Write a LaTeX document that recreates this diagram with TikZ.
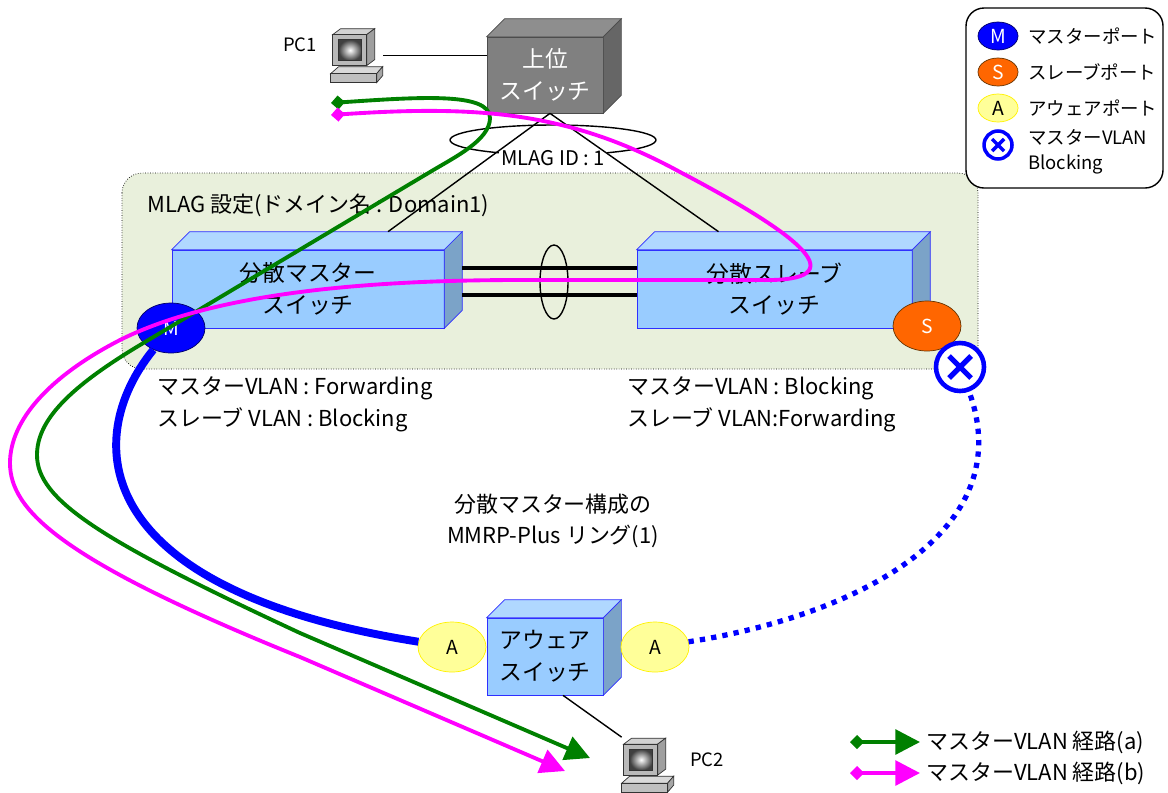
\documentclass[tikz,border=0pt]{standalone}
\usepackage{fontspec}
\setmainfont{Noto Sans CJK JP}
\usetikzlibrary{positioning, arrows.meta, shapes.geometric}

\definecolor{domainbg}{HTML}{E9F0DC}
\definecolor{swfront}{HTML}{99CCFF}
\definecolor{swtop}{HTML}{B0D8FF}
\definecolor{swside}{HTML}{7BA3C8}
\definecolor{swline}{HTML}{2F2FFF}
\definecolor{upfront}{HTML}{808080}
\definecolor{uptop}{HTML}{8E8E8E}
\definecolor{upside}{HTML}{666666}
\definecolor{mblue}{HTML}{0000FF}
\definecolor{sorange}{HTML}{FF6600}
\definecolor{ayellow}{HTML}{FFFF99}
\definecolor{pathgreen}{HTML}{008000}
\definecolor{pathpink}{HTML}{FF00FF}

\newcommand{\lblfont}{\fontsize{12.5pt}{18pt}\selectfont}
\newcommand{\keyfont}{\fontsize{10.5pt}{14pt}\selectfont}

% top and side faces of a box node
\newcommand{\boxsides}[3]{%
	\filldraw[#2] (#1.north west) -- ++(18,-18) -- ([shift={(18,-18)}]#1.north east) -- (#1.north east) -- cycle;
	\filldraw[#3] (#1.north east) -- ++(18,-18) -- ([shift={(18,-18)}]#1.south east) -- (#1.south east) -- cycle;
}

% small computer drawn inside a pc node
\newcommand{\pcicon}[1]{%
	\begin{scope}[shift={(#1.north west)}, draw=black!80, line width=0.4pt]
		\filldraw[fill=gray!35] (2,7) -- (10,1) -- (44,1) -- (36,7) -- cycle;
		\filldraw[fill=gray!75] (36,7) -- (44,1) -- (44,32) -- (36,38) -- cycle;
		\filldraw[fill=gray!55] (2,7) rectangle (36,38);
		\shade[inner color=white, outer color=black!75] (8,12) rectangle (31,33);
		\draw (8,12) rectangle (31,33);
		\filldraw[fill=gray!30] (0,46) -- (8,39) -- (52,39) -- (46,46) -- cycle;
		\filldraw[fill=gray!70] (46,46) -- (52,39) -- (52,48) -- (46,55) -- cycle;
		\filldraw[fill=gray!50] (0,46) rectangle (46,55);
	\end{scope}
}

% cross inside a blocking mark
\newcommand{\blockcross}[3]{%
	\draw[mblue, line width=#3] ([shift={(-#2,-#2)}]#1.center) -- ([shift={(#2,#2)}]#1.center);
	\draw[mblue, line width=#3] ([shift={(-#2,#2)}]#1.center) -- ([shift={(#2,-#2)}]#1.center);
}

\begin{document}
\begin{tikzpicture}[
	x=0.02cm,
	y=-0.02cm,
	lbl/.style={font=\lblfont},
	keytext/.style={font=\keyfont},
	switch/.style={draw=swline, fill=swfront, align=center, font=\fontsize{13pt}{18pt}\selectfont, minimum height=1.56cm, inner sep=0pt},
	upswitch/.style={switch, draw=black!70, fill=upfront, text=white, minimum width=2.32cm, minimum height=1.52cm},
	port/.style={ellipse, minimum width=1.36cm, minimum height=1cm, inner sep=0pt, font=\fontsize{11pt}{12pt}\selectfont},
	mport/.style={port, fill=mblue, draw=blue!40!black, text=white},
	sport/.style={port, fill=sorange, draw=orange!40!black, text=white},
	aport/.style={port, fill=ayellow, draw=yellow},
	key/.style={minimum width=0.8cm, minimum height=0.56cm},
	blockmark/.style={circle, draw=mblue, fill=white, line width=2.6pt, minimum size=0.96cm, inner sep=0pt},
	pcnode/.style={minimum width=1.04cm, minimum height=1.1cm, inner sep=0pt},
	cable/.style={line width=0.8pt},
	laglink/.style={line width=2.2pt},
	ring/.style={mblue, line width=4.5pt},
	ringblocked/.style={mblue, line width=3pt, dash pattern=on 3pt off 3.5pt},
	route/.style={line width=2.2pt, {Diamond[length=8pt,width=8pt]}-{Triangle[length=14pt,width=14pt]}}
]

\useasboundingbox (0,0) rectangle (1168,792);

% MLAG domain
\draw[densely dotted, fill=domainbg, rounded corners=0.4cm] (122,173) rectangle (978,369);
\node[lbl, right] (domainlbl) at (141,205) {MLAG 設定(ドメイン名 : Domain1)};

% switches
\node[upswitch] (upper) at (545,75) {上位\\スイッチ};
\boxsides{upper}{fill=uptop, draw=black!70}{fill=upside, draw=black!70}
\node[switch, minimum width=5.44cm] (master) at (308,289) {分散マスター\\スイッチ};
\boxsides{master}{fill=swtop, draw=swline}{fill=swside, draw=swline}
\node[switch, minimum width=5.5cm] (slave) at (774.5,289) {分散スレーブ\\スイッチ};
\boxsides{slave}{fill=swtop, draw=swline}{fill=swside, draw=swline}
\node[switch, minimum width=2.32cm, minimum height=1.54cm] (acc) at (545,656.5) {アウェア\\スイッチ};
\boxsides{acc}{fill=swtop, draw=swline}{fill=swside, draw=swline}

% terminals
\node[pcnode] (pc1) at (357,55.5) {};
\pcicon{pc1}
\node (pc1lbl) at (300,45) {\fontsize{10.5pt}{12pt}\selectfont PC1};
\node[pcnode] (pc2) at (648,765) {};
\pcicon{pc2}
\node (pc2lbl) at (707,760) {\fontsize{10.5pt}{12pt}\selectfont PC2};

\draw[cable] (pc1.east) -- (pc1.east -| upper.west);
\draw[cable] ([shift={(18,0)}]acc.south) -- (pc2.north west);

% MLAG uplinks
\node[ellipse, draw, cable, minimum width=4.12cm, minimum height=0.6cm] (mlagring) at (553,140) {};
\node[fill=white, inner sep=1pt, font=\fontsize{11.5pt}{12pt}\selectfont] (mlagid) at (553,158) {MLAG ID : 1};
\draw[cable] ([shift={(5,0)}]upper.south) -- ([shift={(80,-18)}]master.north);
\draw[cable] ([shift={(5,0)}]upper.south) -- ([shift={(-56,-18)}]slave.north);

% inter-switch links
\node[ellipse, draw, cable, minimum width=0.56cm, minimum height=1.48cm] (lagring) at (554,282) {};
\draw[laglink] ([shift={(18,-21)}]master.east) -- ([shift={(0,-21)}]master.east -| slave.west);
\draw[laglink] ([shift={(18,6)}]master.east) -- ([shift={(0,6)}]master.east -| slave.west);

% ring ports
\node[mport] (mp) at (171,328) {M};
\node[sport] (sp) at (927,326) {S};
\node[aport] (aleft) at (452,647) {A};
\node[aport] (aright) at (655,647) {A};
\node[blockmark] (blk) at (960,367) {};
\blockcross{blk}{11}{3pt}

% MMRP-Plus ring
\draw[ring] (mp) .. controls (80,440) and (90,590) .. (aleft);
\draw[ringblocked] (aright) .. controls (860,615) and (1020,530) .. (blk);

% VLAN states
\node[lbl, right, align=left] (mstate) at (151,404) {マスターVLAN : Forwarding\\スレーブ VLAN : Blocking};
\node[lbl, right, align=left] (sstate) at (621,404) {マスターVLAN : Blocking\\スレーブ VLAN:Forwarding};
\node[lbl, align=center] (ringname) at (553,521) {分散マスター構成の\\MMRP-Plus リング(1)};

% master VLAN routes
\coordinate (ga) at (331,103);
\coordinate (gz) at (590,758);
\draw[route, pathgreen] (ga) .. controls (420,97) and (490,92) .. (490,118) .. controls (490,140) and (455,157) .. (430,172) -- (140,345) .. controls (70,387) and (37,420) .. (37,455) .. controls (37,500) and (100,540) .. (300,633) -- (gz);
\coordinate (pa) at (331,115);
\coordinate (pz) at (565,771);
\draw[route, pathpink] (pa) .. controls (480,105) and (570,112) .. (680,172) .. controls (800,235) and (860,282) .. (760,280) -- (520,280) .. controls (330,280) and (200,300) .. (120,340) .. controls (50,376) and (10,420) .. (10,463) .. controls (10,510) and (60,560) .. (300,657) -- (pz);

% port legend
\draw[cable, rounded corners=0.36cm, fill=white] (966,8) rectangle (1163,188);
\foreach \k/\t/\l [count=\i] in {mport/M/マスターポート, sport/S/スレーブポート, aport/A/アウェアポート} {
	\node[\k, key] (key-\k) at (998,36*\i) {\t};
	\node[keytext, right] (keytext-\k) at (1022,36*\i) {\l};
}
\node[blockmark, minimum size=0.56cm, line width=2pt] (key-blk) at (998,145) {};
\blockcross{key-blk}{6}{2pt}
\node[keytext, right, align=left] (keytext-blk) at (1022,152) {マスターVLAN\\Blocking};

% route legend
\coordinate (ka-start) at (850,742);
\coordinate (ka-end) at (920,742);
\draw[route, pathgreen] (ka-start) -- (ka-end);
\node[lbl, right] (ka-text) at (ka-end) {マスターVLAN 経路(a)};
\coordinate (kb-start) at (850,773);
\coordinate (kb-end) at (920,773);
\draw[route, pathpink] (kb-start) -- (kb-end);
\node[lbl, right] (kb-text) at (kb-end) {マスターVLAN 経路(b)};

\end{tikzpicture}
\end{document}
